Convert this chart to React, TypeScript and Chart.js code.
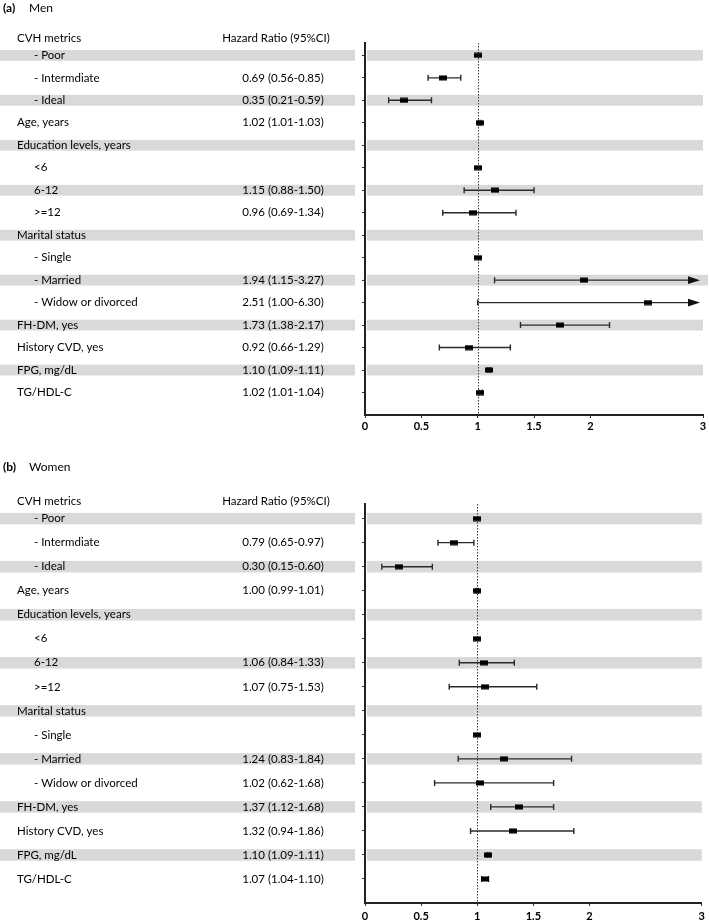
import React, { useEffect, useRef } from "react";
import { Chart, registerables } from "chart.js";

Chart.register(...registerables);

// ---------- data ----------
const headerLabel = "CVH metrics";
const headerValue = "Hazard Ratio (95%CI)";

const rowLabels = [
  "- Poor",
  "- Intermdiate",
  "- Ideal",
  "Age, years",
  "Education levels, years",
  "<6",
  "6-12",
  ">=12",
  "Marital status",
  "- Single",
  "- Married",
  "- Widow or divorced",
  "FH-DM, yes",
  "History CVD, yes",
  "FPG, mg/dL",
  "TG/HDL-C",
];

const menHR = [1, 0.69, 0.35, 1.02, null, 1, 1.15, 0.96, null, 1, 1.94, 2.51, 1.73, 0.92, 1.1, 1.02];
const menLo = [null, 0.56, 0.21, 1.01, null, null, 0.88, 0.69, null, null, 1.15, 1.0, 1.38, 0.66, 1.09, 1.01];
const menHi = [null, 0.85, 0.59, 1.03, null, null, 1.5, 1.34, null, null, 3.27, 6.3, 2.17, 1.29, 1.11, 1.04];

const womenHR = [1, 0.79, 0.3, 1.0, null, 1, 1.06, 1.07, null, 1, 1.24, 1.02, 1.37, 1.32, 1.1, 1.07];
const womenLo = [null, 0.65, 0.15, 0.99, null, null, 0.84, 0.75, null, null, 0.83, 0.62, 1.12, 0.94, 1.09, 1.04];
const womenHi = [null, 0.97, 0.6, 1.01, null, null, 1.33, 1.53, null, null, 1.84, 1.68, 1.68, 1.86, 1.11, 1.1];

const xTicks = [0, 0.5, 1, 1.5, 2, 3];

// ---------- drawing helpers ----------
const FONT = "Lato, 'Open Sans', sans-serif";
const BAND = "#d9d9d9";

function makeMarker(): HTMLCanvasElement {
  const c = document.createElement("canvas");
  c.width = 8;
  c.height = 6;
  const g = c.getContext("2d")!;
  g.fillStyle = "#000";
  g.fillRect(0, 0.5, 8, 5);
  return c;
}

type PanelCfg = {
  letter: string;
  name: string;
  hr: (number | null)[];
  lo: (number | null)[];
  hi: (number | null)[];
  height: number;
  padTop: number;
  yMin: number;
  xAxisH: number;
  tickPad: number;
  titleY: number;
  headerY: number;
};

function fmt(v: number) {
  return v.toFixed(2);
}

function buildChart(canvas: HTMLCanvasElement, cfg: PanelCfg) {
  const { hr, lo, hi } = cfg;
  const points = hr
    .map((v, i) => (v == null ? null : { x: v, y: i }))
    .filter((p) => p !== null) as { x: number; y: number }[];

  const forest = {
    id: "forest",
    beforeDraw(chart: any) {
      const ctx = chart.ctx;
      const xs = chart.scales.x;
      const ys = chart.scales.y;
      const area = chart.chartArea;
      const step = Math.abs(ys.getPixelForValue(1) - ys.getPixelForValue(0));
      const bh = step * 0.48;
      ctx.save();
      ctx.fillStyle = BAND;
      rowLabels.forEach((_, i) => {
        if (i % 2 !== 0) return;
        const y = ys.getPixelForValue(i);
        ctx.fillRect(0, y - bh / 2, area.left - 10, bh);
        const over = hi[i] != null && (hi[i] as number) > xs.max;
        const right = over ? chart.width - 1 : area.right;
        ctx.fillRect(area.left + 2, y - bh / 2, right - area.left - 2, bh);
      });
      ctx.restore();
    },
    beforeDatasetsDraw(chart: any) {
      const ctx = chart.ctx;
      const xs = chart.scales.x;
      const ys = chart.scales.y;
      const area = chart.chartArea;
      ctx.save();
      // reference line at HR = 1
      ctx.strokeStyle = "#3a3a3a";
      ctx.lineWidth = 1;
      ctx.setLineDash([1.5, 1.5]);
      const x1p = Math.round(xs.getPixelForValue(1)) + 0.5;
      ctx.beginPath();
      ctx.moveTo(x1p, area.top);
      ctx.lineTo(x1p, area.bottom);
      ctx.stroke();
      ctx.setLineDash([]);
      // confidence intervals
      ctx.strokeStyle = "#2a2a2a";
      ctx.fillStyle = "#111";
      ctx.lineWidth = 1.4;
      rowLabels.forEach((_, i) => {
        const l = lo[i];
        const h = hi[i];
        if (l == null || h == null) return;
        const y = ys.getPixelForValue(i);
        const xa = xs.getPixelForValue(l);
        const over = h > xs.max;
        const tip = xs.getPixelForValue(xs.max) - 3;
        const xb = over ? tip - 10 : xs.getPixelForValue(h);
        ctx.beginPath();
        ctx.moveTo(xa, y);
        ctx.lineTo(xb, y);
        ctx.moveTo(xa, y - 3);
        ctx.lineTo(xa, y + 3);
        if (!over) {
          ctx.moveTo(xb, y - 3);
          ctx.lineTo(xb, y + 3);
        }
        ctx.stroke();
        if (over) {
          ctx.beginPath();
          ctx.moveTo(tip, y);
          ctx.lineTo(tip - 12, y - 3.8);
          ctx.lineTo(tip - 12, y + 3.8);
          ctx.closePath();
          ctx.fill();
        }
      });
      ctx.restore();
    },
    afterDraw(chart: any) {
      const ctx = chart.ctx;
      const ys = chart.scales.y;
      ctx.save();
      ctx.fillStyle = "#000";
      ctx.textBaseline = "middle";
      // panel title
      ctx.textAlign = "left";
      ctx.font = `bold 12px ${FONT}`;
      ctx.fillText(cfg.letter, 3, cfg.titleY);
      ctx.font = `12px ${FONT}`;
      ctx.fillText(cfg.name, 29, cfg.titleY);
      // header
      ctx.font = `11.5px ${FONT}`;
      ctx.fillText(headerLabel, 17, cfg.headerY);
      ctx.textAlign = "center";
      ctx.fillText(headerValue, 276, cfg.headerY);
      // rows
      rowLabels.forEach((label, i) => {
        const y = ys.getPixelForValue(i);
        const sub = !/^[A-Z]/.test(label);
        ctx.textAlign = "left";
        ctx.fillText(label, sub ? 34 : 17, y);
        const v = hr[i];
        const l = lo[i];
        const h = hi[i];
        if (v != null && l != null && h != null) {
          ctx.textAlign = "center";
          ctx.fillText(`${fmt(v)} (${fmt(l)}-${fmt(h)})`, 283, y);
        }
      });
      ctx.restore();
    },
  };

  return new Chart(canvas, {
    type: "scatter",
    data: {
      datasets: [
        {
          data: points,
          pointStyle: makeMarker() as any,
          pointRadius: 4,
          pointHoverRadius: 4,
          backgroundColor: "#000",
          borderColor: "#000",
        },
      ],
    },
    options: {
      animation: false,
      responsive: false,
      events: [],
      layout: { padding: { top: cfg.padTop, right: 6, left: 0, bottom: 0 } },
      plugins: {
        legend: { display: false },
        tooltip: { enabled: false },
      },
      scales: {
        x: {
          type: "linear",
          min: 0,
          max: 3,
          afterBuildTicks: (s: any) => {
            s.ticks = xTicks.map((v) => ({ value: v }));
          },
          afterFit: (s: any) => {
            s.height = cfg.xAxisH;
          },
          grid: { drawOnChartArea: false, drawTicks: true, tickLength: 3, color: "#333", lineWidth: 1 },
          border: { display: true, color: "#222", width: 2 },
          ticks: {
            autoSkip: false,
            maxRotation: 0,
            padding: cfg.tickPad,
            color: "#000",
            font: { family: FONT, size: 11, weight: "bold" },
            callback: (v: any) => String(v),
          },
        },
        y: {
          type: "linear",
          reverse: true,
          min: cfg.yMin,
          max: 16,
          afterBuildTicks: (s: any) => {
            s.ticks = rowLabels.map((_, i) => ({ value: i }));
          },
          afterFit: (s: any) => {
            s.width = 365;
          },
          grid: { drawOnChartArea: false, drawTicks: true, tickLength: 3, color: "#333", lineWidth: 1 },
          border: { display: true, color: "#222", width: 2 },
          ticks: { display: false },
        },
      },
    },
    plugins: [forest as any],
  });
}

const menCfg: PanelCfg = {
  letter: "(a)",
  name: "Men",
  hr: menHR,
  lo: menLo,
  hi: menHi,
  height: 460,
  padTop: 43,
  yMin: -0.55,
  xAxisH: 45,
  tickPad: 2,
  titleY: 8,
  headerY: 38,
};

const womenCfg: PanelCfg = {
  letter: "(b)",
  name: "Women",
  hr: womenHR,
  lo: womenLo,
  hi: womenHi,
  height: 462,
  padTop: 44,
  yMin: -0.61,
  xAxisH: 19,
  tickPad: 4,
  titleY: 6.7,
  headerY: 41.7,
};

function Panel({ cfg }: { cfg: PanelCfg }) {
  const ref = useRef<HTMLCanvasElement>(null);
  useEffect(() => {
    if (!ref.current) return;
    const chart = buildChart(ref.current, cfg);
    return () => chart.destroy();
  }, [cfg]);
  return (
    <canvas
      ref={ref}
      width={709}
      height={cfg.height}
      style={{ display: "block", width: 709, height: cfg.height }}
    />
  );
}

export default function App() {
  return (
    <div style={{ position: "absolute", left: 0, top: 0, width: 709, background: "#fff" }}>
      <Panel cfg={menCfg} />
      <Panel cfg={womenCfg} />
    </div>
  );
}
